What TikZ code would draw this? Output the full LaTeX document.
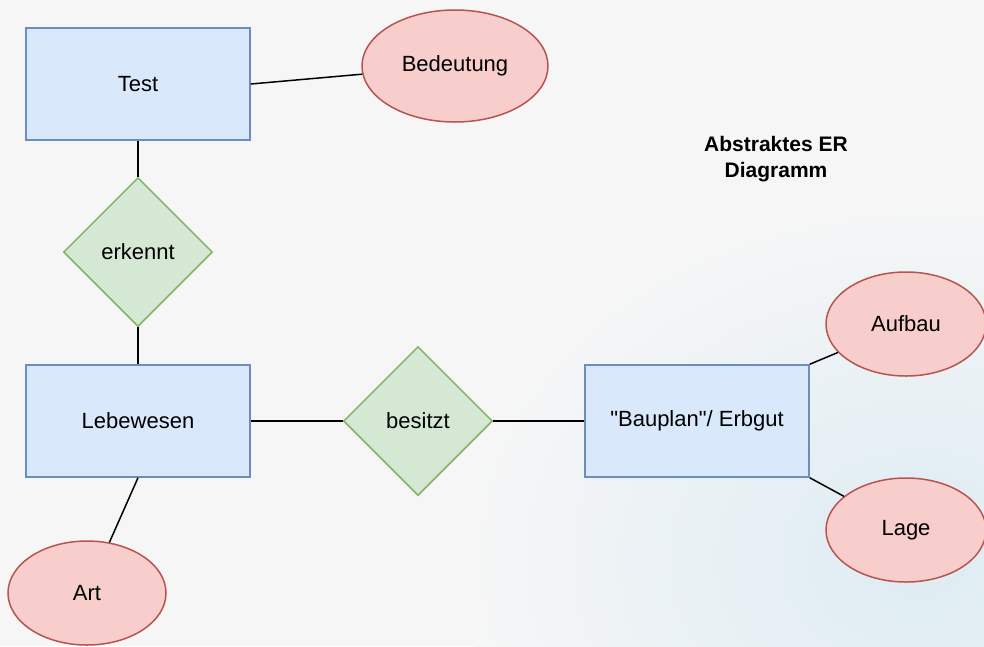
\documentclass[tikz,border=0pt]{standalone}
\usepackage{fontspec}
\newfontfamily\erfont{Liberation Sans}
\usetikzlibrary{shapes.geometric}
\definecolor{bg}{HTML}{F6F6F6}
\definecolor{bgblue}{HTML}{DDECF3}
\definecolor{entfill}{HTML}{DAE8FC}
\definecolor{entdraw}{HTML}{6C8EBF}
\definecolor{relfill}{HTML}{D5E8D4}
\definecolor{reldraw}{HTML}{82B366}
\definecolor{attfill}{HTML}{F8CECC}
\definecolor{attdraw}{HTML}{B85450}
\tikzset{
  lbl/.style={font=\erfont\fontsize{22}{26}\selectfont},
  entity/.style={lbl, rectangle, fill=entfill, draw=entdraw, line width=1.5pt, minimum width=224pt, minimum height=112pt, inner sep=0pt},
  relation/.style={lbl, diamond, aspect=1, fill=relfill, draw=reldraw, line width=1.5pt, minimum width=149pt, minimum height=149pt, inner sep=0pt},
  attribute/.style={lbl, ellipse, fill=attfill, draw=attdraw, line width=1.5pt, inner sep=0pt},
  link/.style={draw=black, line width=1.5pt}
}
\begin{document}
\begin{tikzpicture}[x=1pt,y=-1pt]
\useasboundingbox (0,0) rectangle (984,646);
\fill[bg] (0,0) rectangle (984,646);
\begin{scope}
\clip (0,0) rectangle (984,646);
\shade[inner color=bgblue, outer color=bg] (920,560) ellipse (460pt and 360pt);
\end{scope}

\node[entity] (test) at (138,84) {Test};
\node[attribute, minimum width=186pt, minimum height=112pt] (bed) at (455,66) {Bedeutung};
\node[relation] (erk) at (138,252) {erkennt};
\node[entity] (leb) at (138,421) {Lebewesen};
\node[relation] (bes) at (418,421) {besitzt};
\node[entity] (bau) at (697,421) {"Bauplan"/ Erbgut};
\node[attribute, minimum width=160pt, minimum height=104pt] (auf) at (906,324) {Aufbau};
\node[attribute, minimum width=160pt, minimum height=104pt] (lage) at (906,530) {Lage};
\node[attribute, minimum width=158pt, minimum height=104pt] (art) at (87,593) {Art};
\node[align=center, font=\erfont\bfseries\fontsize{21}{26}\selectfont] (title) at (776,159) {Abstraktes ER\\Diagramm};

\draw[link] (test.east) -- (bed);
\draw[link] (test.south) -- (erk.north);
\draw[link] (erk.south) -- (leb.north);
\draw[link] (leb.east) -- (bes.west);
\draw[link] (bes.east) -- (bau.west);
\draw[link] (leb.south) -- (art);
\draw[link] (bau.north east) -- (auf);
\draw[link] (bau.south east) -- (lage);
\end{tikzpicture}
\end{document}
